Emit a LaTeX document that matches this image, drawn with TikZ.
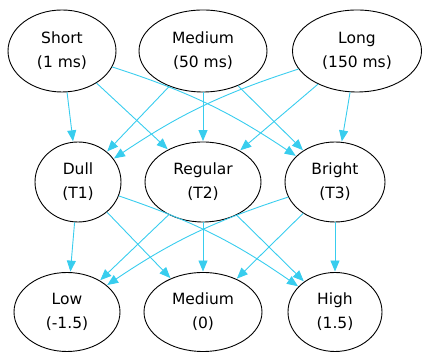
\documentclass[tikz,border=0pt]{standalone}
\usepackage{fontspec}
\setmainfont{DejaVu Sans}
\usetikzlibrary{shapes.geometric,arrows.meta}
\definecolor{edgecol}{HTML}{38CDEE}
\begin{document}
\begin{tikzpicture}[x=1pt,y=1pt,
  state/.style={ellipse, draw=black, line width=0.9pt, inner sep=0pt,
    align=center, font=\fontsize{15.5}{24}\selectfont},
  link/.style={draw=edgecol, line width=0.9pt,
    -{Triangle[length=11pt,width=9pt]}, shorten >=0.5pt}]
\useasboundingbox (0,0) rectangle (423,352);

% duration
\node[state, minimum width=108pt, minimum height=82pt] (short) at (62,301) {Short\\(1 ms)};
\node[state, minimum width=128pt, minimum height=82pt] (medium) at (203,301) {Medium\\(50 ms)};
\node[state, minimum width=129pt, minimum height=82pt] (long) at (357,301) {Long\\(150 ms)};

% tone
\node[state, minimum width=86pt, minimum height=80pt] (dull) at (78,170) {Dull\\(T1)};
\node[state, minimum width=116pt, minimum height=80pt] (regular) at (203,170) {Regular\\(T2)};
\node[state, minimum width=100pt, minimum height=80pt] (bright) at (335,170) {Bright\\(T3)};

% level
\node[state, minimum width=106pt, minimum height=79pt] (low) at (67,40) {Low\\(-1.5)};
\node[state, minimum width=118pt, minimum height=79pt] (zero) at (203,40) {Medium\\(0)};
\node[state, minimum width=94pt, minimum height=79pt] (high) at (335,40) {High\\(1.5)};

% duration -> tone
\draw[link] (short) -- (dull);
\draw[link] (short) -- (regular);
\draw[link] (short) to[bend left=8] (bright);
\draw[link] (medium) -- (dull);
\draw[link] (medium) -- (regular);
\draw[link] (medium) -- (bright);
\draw[link] (long) to[bend right=8] (dull);
\draw[link] (long) -- (regular);
\draw[link] (long) -- (bright);

% tone -> level
\draw[link] (dull) -- (low);
\draw[link] (dull) -- (zero);
\draw[link] (dull) to[bend left=8] (high);
\draw[link] (regular) -- (low);
\draw[link] (regular) -- (zero);
\draw[link] (regular) -- (high);
\draw[link] (bright) to[bend right=8] (low);
\draw[link] (bright) -- (zero);
\draw[link] (bright) -- (high);
\end{tikzpicture}
\end{document}
